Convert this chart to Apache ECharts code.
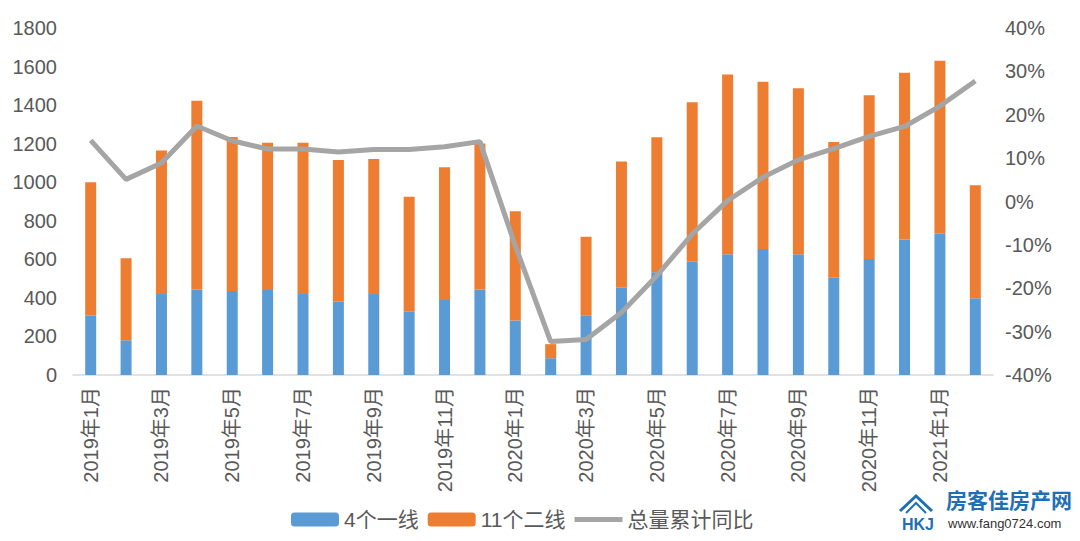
<!DOCTYPE html>
<html>
<head>
<meta charset="utf-8">
<script src="https://cdn.jsdelivr.net/npm/echarts@6/dist/echarts.min.js"></script>
<style>
  html, body { margin: 0; padding: 0; background: #fff; }
  #chart { width: 1080px; height: 541px; }
</style>
</head>
<body>
<div id="chart"></div>
<script>
(function() {
  var months = [
    '2019年1月', '2019年2月', '2019年3月', '2019年4月', '2019年5月', '2019年6月',
    '2019年7月', '2019年8月', '2019年9月', '2019年10月', '2019年11月', '2019年12月',
    '2020年1月', '2020年2月', '2020年3月', '2020年4月', '2020年5月', '2020年6月',
    '2020年7月', '2020年8月', '2020年9月', '2020年10月', '2020年11月', '2020年12月',
    '2021年1月', '2021年2月'
  ];
  // stacked totals, split into tier-1 and tier-2
  var tier1 = [307, 180, 420, 444, 436, 441, 420, 380, 420, 328, 389, 444,
               283, 87, 307, 453, 533, 588, 627, 653, 627, 505, 602, 703, 733, 398];
  var total = [1000, 606, 1165, 1422, 1234, 1205, 1205, 1115, 1120, 924, 1078, 1201,
               849, 160, 717, 1108, 1233, 1415, 1559, 1521, 1488, 1208, 1451, 1568, 1630, 984];
  var yoy = [14.1, 5.1, 8.9, 17.4, 14.0, 12.1, 12.1, 11.4, 12.0, 12.0, 12.6, 13.8,
             -10.2, -32.3, -31.8, -25.6, -17.1, -7.5, 0.2, 5.6, 9.6, 12.2, 15.0, 17.3, 22.0, 27.8];
  var tier2 = total.map(function(t, i) { return t - tier1[i]; });

  var txt = '#595959';
  var rule = '#D9D9D9';
  var gray = '#A5A5A5';
  var font = 'Helvetica, "Liberation Sans", Arial, "Noto Sans CJK SC", sans-serif';

  var chart = echarts.init(document.getElementById('chart'), null, { renderer: 'svg' });
  chart.setOption({
    animation: false,
    textStyle: { fontFamily: font },
    grid: { left: 73, right: 87, top: 28, bottom: 166 },
    legend: {
      left: 291,
      top: 509,
      padding: 0,
      itemWidth: 48,
      itemHeight: 14,
      itemGap: 9,
      textStyle: { color: txt, fontSize: 21, fontFamily: font },
      data: [
        '4个一线',
        '11个二线',
        { name: '总量累计同比', icon: 'path://M0 0H48V5H0Z', itemStyle: { color: gray } }
      ]
    },
    xAxis: {
      type: 'category',
      data: months,
      axisLine: { lineStyle: { color: rule, width: 1.5 } },
      axisTick: { interval: 1, length: 9, lineStyle: { color: rule, width: 1.5 } },
      axisLabel: {
        interval: 1,
        rotate: 90,
        margin: 12,
        color: txt,
        fontSize: 20,
        fontFamily: font
      }
    },
    yAxis: [
      {
        type: 'value',
        min: 0,
        max: 1800,
        interval: 200,
        axisLine: { show: false },
        axisTick: { show: false },
        splitLine: { show: false },
        axisLabel: { color: txt, fontSize: 20, margin: 16, fontFamily: font, formatter: function(v) { return String(v); } }
      },
      {
        type: 'value',
        min: -40,
        max: 40,
        interval: 10,
        axisLine: { show: false },
        axisTick: { show: false },
        splitLine: { show: false },
        axisLabel: { color: txt, fontSize: 20, margin: 12, fontFamily: font, formatter: '{value}%' }
      }
    ],
    series: [
      {
        name: '4个一线',
        type: 'bar',
        stack: 'total',
        barWidth: 11,
        itemStyle: { color: '#5B9BD5' },
        data: tier1
      },
      {
        name: '11个二线',
        type: 'bar',
        stack: 'total',
        barWidth: 11,
        itemStyle: { color: '#ED7D31' },
        data: tier2
      },
      {
        name: '总量累计同比',
        type: 'line',
        yAxisIndex: 1,
        symbol: 'none',
        z: 5,
        lineStyle: { color: gray, width: 5 },
        itemStyle: { color: gray },
        data: yoy
      }
    ],
    graphic: [
      {
        type: 'polyline',
        shape: { points: [[900, 511], [916, 496], [932, 511]] },
        style: { stroke: '#1F6FB5', lineWidth: 3, fill: null }
      },
      {
        type: 'polyline',
        shape: { points: [[906, 513], [916, 503], [926, 513]] },
        style: { stroke: '#1F6FB5', lineWidth: 2, fill: null }
      },
      {
        type: 'text',
        left: 902,
        top: 516,
        style: { text: 'HKJ', fill: '#1F6FB5', font: 'bold 16px ' + font }
      },
      {
        type: 'text',
        left: 946,
        top: 488,
        style: { text: '房客佳房产网', fill: '#1F6FB5', font: 'bold 21px "Noto Sans CJK SC", sans-serif' }
      },
      {
        type: 'text',
        left: 948,
        top: 517,
        style: { text: 'www.fang0724.com', fill: '#333333', font: '13px "Liberation Sans", sans-serif' }
      }
    ]
  });
  window.addEventListener('resize', function() { chart.resize(); });
})();
</script>
</body>
</html>
